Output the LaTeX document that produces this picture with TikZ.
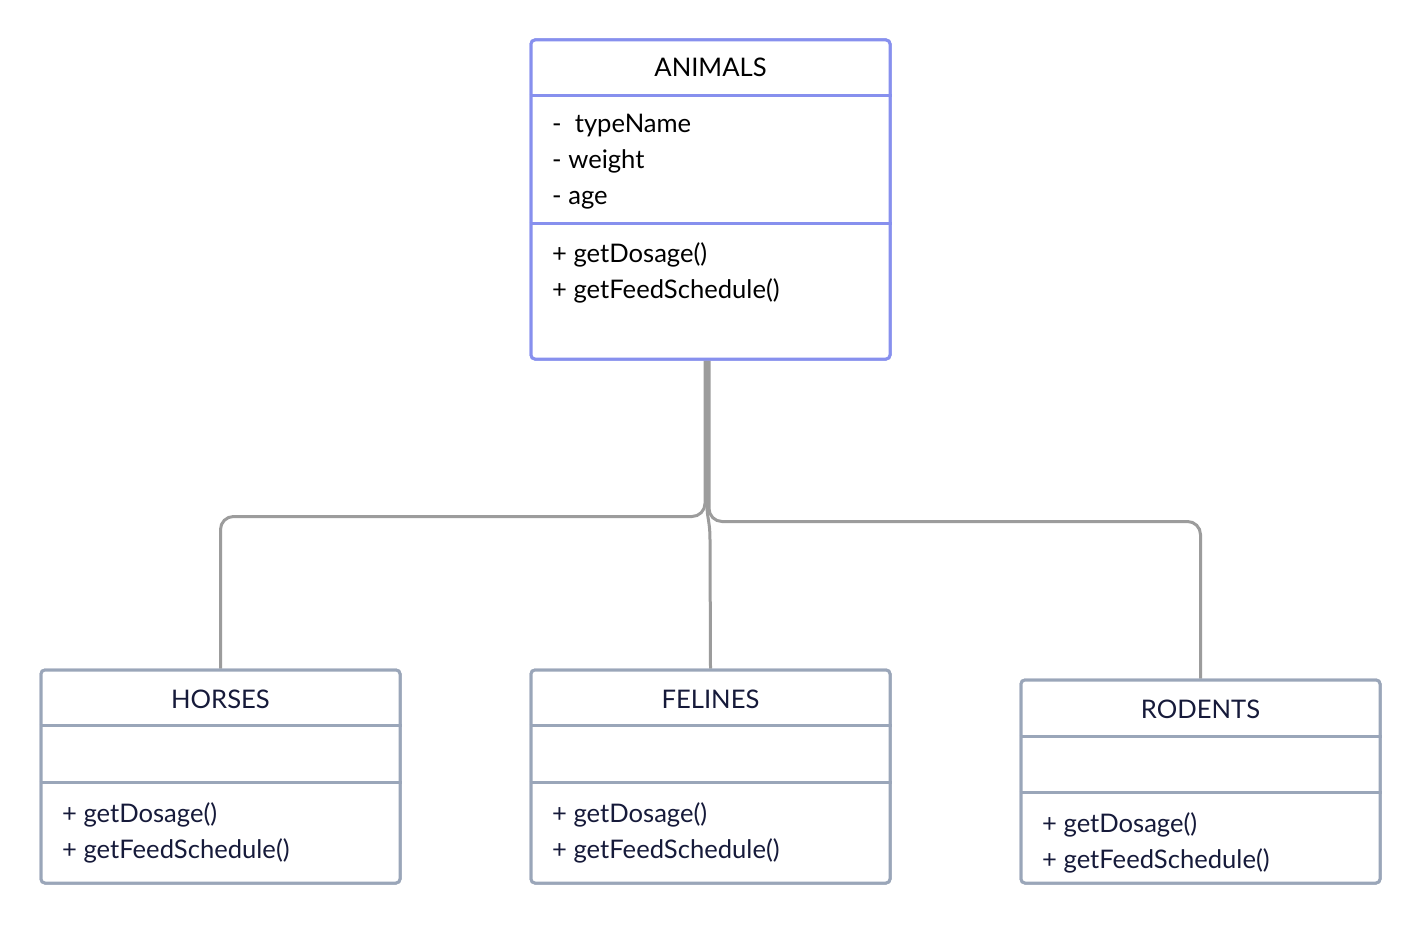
\documentclass[tikz,border=0pt]{standalone}
\usepackage{fontspec}
\setmainfont{Lato}
\usetikzlibrary{calc}
\definecolor{superc}{HTML}{8790EE}
\definecolor{subc}{HTML}{9AA6B9}
\definecolor{linkc}{HTML}{9C9C9C}
\definecolor{subtext}{HTML}{161A3A}
\begin{document}
\begin{tikzpicture}[x=1pt,y=-1pt,
  umlbox/.style={draw, line width=3pt, rounded corners=4pt, inner sep=0pt, fill=white},
  superbox/.style={umlbox, draw=superc},
  subbox/.style={umlbox, draw=subc},
  divider/.style={line width=3pt},
  txt/.style={anchor=base west, inner sep=0pt, font=\fontsize{25.6}{30}\selectfont},
  ttl/.style={anchor=base, inner sep=0pt, font=\fontsize{25.6}{30}\selectfont},
  link/.style={draw=linkc, line width=3pt, rounded corners=13pt}
]
\useasboundingbox[fill=white] (0,0) rectangle (1420,925);

% ---- class boxes
\node[superbox, minimum width=359pt, minimum height=319pt] (A) at (710.5,199.5) {};
\node[subbox, minimum width=359pt, minimum height=213pt] (H) at (220.5,776.5) {};
\node[subbox, minimum width=359pt, minimum height=213pt] (F) at (710.5,776.5) {};
\node[subbox, minimum width=359pt, minimum height=203pt] (R) at (1200.5,781.5) {};

% ---- connectors
\draw[link] ($(A.south)+(-5.5,0)$) -- ++(0,156) -| (H.north);
\draw[link] ($(A.south)+(-1.5,0)$) -- ++(0,161) -| (R.north);
\draw[draw=linkc, line width=3pt] ($(A.south)+(-3.5,0)$) -- ($(A.south)+(-3.5,145)$)
   .. controls ($(A.south)+(-3.5,158)$) and ($(A.south)+(-0.5,160)$) .. ($(A.south)+(-0.5,180)$) -- (F.north);

% redraw box outlines on top of connector ends
\node[superbox, minimum width=359pt, minimum height=319pt] at (A) {};
\node[subbox, minimum width=359pt, minimum height=213pt] at (H) {};
\node[subbox, minimum width=359pt, minimum height=213pt] at (F) {};
\node[subbox, minimum width=359pt, minimum height=203pt] at (R) {};

% ---- ANIMALS
\draw[divider, superc] (A.west |- 0,96) -- (A.east |- 0,96);
\draw[divider, superc] (A.west |- 0,224) -- (A.east |- 0,224);
\node[ttl] (At) at (710.5,77) {ANIMALS};
\node[txt] (A1) at (552,133) {-\ \ typeName};
\node[txt] (A2) at (552,169) {- weight};
\node[txt] (A3) at (552,205) {- age};
\node[txt] (A4) at (552,262) {+ getDosage()};
\node[txt] (A5) at (552,298) {+ getFeedSchedule()};

% ---- HORSES
\draw[divider, subc] (H.west |- 0,725) -- (H.east |- 0,725);
\draw[divider, subc] (H.west |- 0,782) -- (H.east |- 0,782);
\node[ttl, text=subtext] (Ht) at (220.5,708) {HORSES};
\node[txt, text=subtext] (H1) at (62,822) {+ getDosage()};
\node[txt, text=subtext] (H2) at (62,858) {+ getFeedSchedule()};

% ---- FELINES
\draw[divider, subc] (F.west |- 0,725) -- (F.east |- 0,725);
\draw[divider, subc] (F.west |- 0,782) -- (F.east |- 0,782);
\node[ttl, text=subtext] (Ft) at (710.5,708) {FELINES};
\node[txt, text=subtext] (F1) at (552,822) {+ getDosage()};
\node[txt, text=subtext] (F2) at (552,858) {+ getFeedSchedule()};

% ---- RODENTS
\draw[divider, subc] (R.west |- 0,736) -- (R.east |- 0,736);
\draw[divider, subc] (R.west |- 0,792) -- (R.east |- 0,792);
\node[ttl, text=subtext] (Rt) at (1200.5,718) {RODENTS};
\node[txt, text=subtext] (R1) at (1042,832) {+ getDosage()};
\node[txt, text=subtext] (R2) at (1042,868) {+ getFeedSchedule()};
\end{tikzpicture}
\end{document}
